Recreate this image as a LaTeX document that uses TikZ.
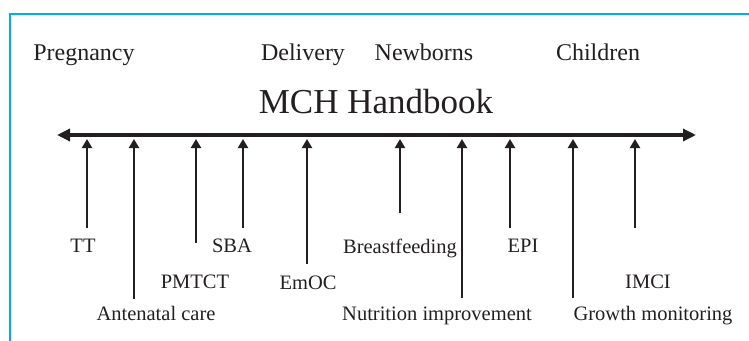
\documentclass[tikz,border=0pt]{standalone}
\usepackage{fontspec}
\setmainfont{Liberation Serif}
\usetikzlibrary{arrows.meta}
\definecolor{frameblue}{HTML}{00AEEF}
\definecolor{ink}{HTML}{231F20}
\tikzset{
  lbl/.style={anchor=base, inner sep=0pt, text=ink, font=\fontsize{20.5}{22}\selectfont},
  phase/.style={anchor=base, inner sep=0pt, text=ink, font=\fontsize{24}{26}\selectfont},
  title/.style={anchor=base, inner sep=0pt, text=ink, font=\fontsize{35}{38}\selectfont},
  axisline/.style={draw=ink, line width=4pt, {Triangle[length=13pt,width=12pt]}-{Triangle[length=13pt,width=12pt]}},
  uparrow/.style={draw=ink, line width=2.4pt, -{Triangle[length=9pt,width=10pt]}},
  framestyle/.style={draw=frameblue, line width=2.6pt}
}
\begin{document}
\begin{tikzpicture}[x=1pt,y=-1pt]
\useasboundingbox (0,0) rectangle (749,340);
% frame
\coordinate (fb) at (10,341);
\coordinate (fc) at (10,14);
\coordinate (fr) at (750,14);
\draw[framestyle] (fb) -- (fc) -- (fr);
% phase labels
\node[phase] (preg) at (84,60) {Pregnancy};
\node[phase] (deliv) at (303,60) {Delivery};
\node[phase] (newb) at (424,60) {Newborns};
\node[phase] (child) at (598,60) {Children};
\node[title] (mch) at (376,113) {MCH Handbook};
% axis
\coordinate (axL) at (57,135);
\coordinate (axR) at (696,135);
\draw[axisline] (axL) -- (axR);
% arrows: name / x / bottom
\foreach \n/\x/\b in {tt/87/228, ant/134/299, pmt/196/243, sba/243/228, emoc/307/264, bf/400/213, nut/462/298, epi/510/228, gro/573/298, imci/635/228}{
  \coordinate (\n-top) at (\x,139);
  \coordinate (\n-bot) at (\x,\b);
  \draw[uparrow] (\n-bot) -- (\n-top);
}
% labels
\node[lbl] (lTT) at (83,252) {TT};
\node[lbl] (lAnt) at (156,320) {Antenatal care};
\node[lbl] (lPMT) at (195,288) {PMTCT};
\node[lbl] (lSBA) at (232,252) {SBA};
\node[lbl] (lEmOC) at (308,289) {EmOC};
\node[lbl] (lBF) at (400,253) {Breastfeeding};
\node[lbl] (lNut) at (437,320) {Nutrition improvement};
\node[lbl] (lEPI) at (523,252) {EPI};
\node[lbl] (lIMCI) at (648,288) {IMCI};
\node[lbl] (lGro) at (653,320) {Growth monitoring};
\end{tikzpicture}
\end{document}
